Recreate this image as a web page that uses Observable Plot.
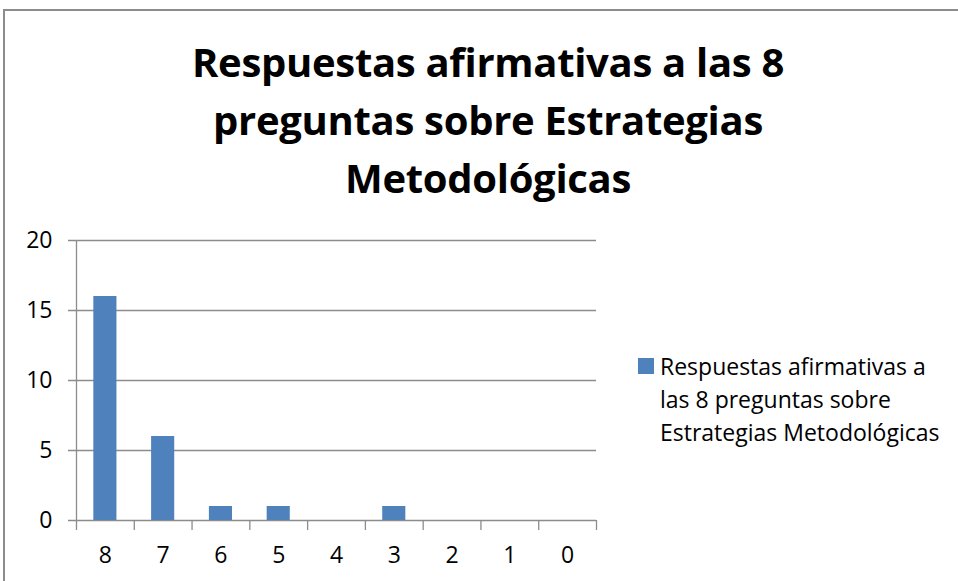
<!DOCTYPE html>
<html>
<head>
<meta charset="utf-8">
<script src="https://cdn.jsdelivr.net/npm/d3@7"></script>
<script src="https://cdn.jsdelivr.net/npm/@observablehq/plot@0.6"></script>
<style>
  html, body { margin: 0; padding: 0; background: #fff; }
  #wrap { position: relative; width: 958px; height: 581px; overflow: hidden; background: #fff; }
  #frame { position: absolute; left: 3px; top: 9px; width: 1000px; height: 1000px; border-left: 2px solid #8c8c8c; border-top: 2px solid #8c8c8c; }
  #title { position: absolute; left: 0; top: 33px; width: 976px; text-align: center; font-family: "Open Sans", sans-serif; font-weight: bold; font-size: 40px; line-height: 58px; letter-spacing: -0.3px; color: #000; }
  #chart { position: absolute; left: 0; top: 220px; }
  #legend { position: absolute; left: 638px; top: 350px; font-family: "Open Sans", sans-serif; font-size: 23px; line-height: 33px; color: #000; }
  #legend .sw { position: absolute; left: 0; top: 8px; width: 16px; height: 16px; }
  #legend .tx { position: absolute; left: 22px; top: 0; white-space: nowrap; }
</style>
</head>
<body>
<div id="wrap">
  <div id="frame"></div>
  <div id="title"></div>
  <div id="chart"></div>
  <div id="legend"><div class="sw"></div><div class="tx"></div></div>
</div>
<script>
const titleLines = ["Respuestas afirmativas a las 8", "preguntas sobre Estrategias", "Metodológicas"];
const seriesName = "Respuestas afirmativas a las 8 preguntas sobre Estrategias Metodológicas";
const legendLines = ["Respuestas afirmativas a", "las 8 preguntas sobre", "Estrategias Metodológicas"];
const categories = ["8", "7", "6", "5", "4", "3", "2", "1", "0"];
const values = [16, 6, 1, 1, 0, 1, 0, 0, 0];
const yTicks = [0, 5, 10, 15, 20];
const barColor = "#4F81BD";
const gridColor = "#8c8c8c";

const data = categories.map((c, i) => ({cat: c, value: values[i]}));

document.getElementById("title").innerHTML = titleLines.join("<br>");
document.querySelector("#legend .sw").style.background = barColor;
document.querySelector("#legend .tx").innerHTML = legendLines.join("<br>");

const W = 958, H = 361, mL = 76, mR = 362;
const step = (W - mL - mR) / categories.length;

const chart = Plot.plot({
  width: W,
  height: H,
  marginLeft: mL,
  marginRight: mR,
  marginTop: 20,
  marginBottom: 61,
  style: {fontFamily: "'Open Sans', sans-serif", fontSize: "23px", color: "#000", background: "transparent"},
  x: {domain: categories, paddingInner: 0.6, paddingOuter: 0.3, round: false, label: null},
  y: {domain: [0, 20], label: null},
  marks: [
    Plot.ruleY(yTicks, {stroke: gridColor, strokeWidth: 1.3, insetLeft: -8}),
    Plot.barY(data, {x: "cat", y: "value", fill: barColor}),
    Plot.ruleX(categories, {y1: () => 0, y2: () => 0, dx: step / 2, insetBottom: -10, stroke: gridColor, strokeWidth: 1.3}),
    Plot.ruleX([categories[0]], {dx: -step / 2, insetBottom: -10, stroke: gridColor, strokeWidth: 1.3}),
    Plot.axisY(yTicks, {tickSize: 0, tickPadding: 24, fontSize: 23}),
    Plot.axisX({tickSize: 0, tickPadding: 26, fontSize: 23})
  ]
});
chart.setAttribute("aria-label", seriesName);
document.getElementById("chart").appendChild(chart);
</script>
</body>
</html>
